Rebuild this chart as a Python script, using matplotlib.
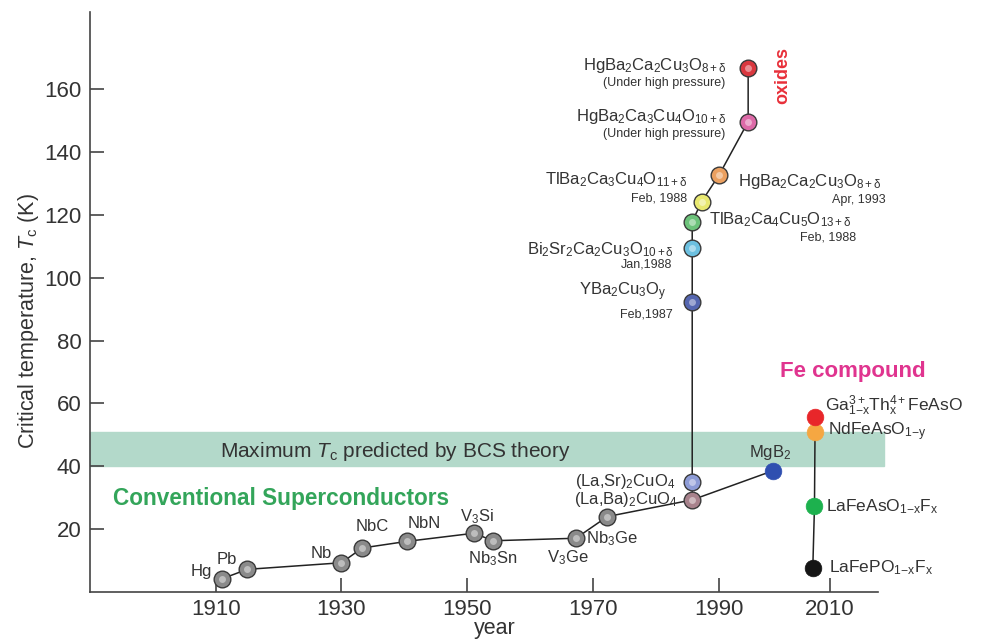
import numpy as np
import matplotlib
matplotlib.use("Agg")
import matplotlib.pyplot as plt
from matplotlib.colors import to_rgb

plt.rcParams["font.family"] = ["Liberation Sans", "DejaVu Sans"]
plt.rcParams["mathtext.fontset"] = "custom"
plt.rcParams["mathtext.rm"] = "Liberation Sans"
plt.rcParams["mathtext.it"] = "Liberation Sans:italic"
plt.rcParams["mathtext.bf"] = "Liberation Sans:bold"

# Conventional superconductors
conv_names = ["Hg", "Pb", "Nb", "NbC", "NbN", r"$\mathregular{V_3Si}$",
              r"$\mathregular{Nb_3Sn}$", r"$\mathregular{V_3Ge}$", r"$\mathregular{Nb_3Ge}$"]
conv_year = [1911, 1915, 1930, 1933.3, 1940.4, 1951.1, 1954.1, 1967.3, 1972.3]
conv_tc = [4.2, 7.2, 9.3, 14.0, 16.1, 18.7, 16.3, 17.1, 24.0]

# Cuprates (oxides), ordered along the line
oxide_names = [r"$\mathregular{(La{,}Ba)_2CuO_4}$", r"$\mathregular{(La{,}Sr)_2CuO_4}$",
               r"$\mathregular{YBa_2Cu_3O_y}$", r"$\mathregular{Bi_2Sr_2Ca_2Cu_3O_{10+\delta}}$",
               r"$\mathregular{TlBa_2Ca_4Cu_5O_{13+\delta}}$", r"$\mathregular{TlBa_2Ca_3Cu_4O_{11+\delta}}$",
               r"$\mathregular{HgBa_2Ca_2Cu_3O_{8+\delta}}$", r"$\mathregular{HgBa_2Ca_3Cu_4O_{10+\delta}}$",
               r"$\mathregular{HgBa_2Ca_2Cu_3O_{8+\delta}}$"]
oxide_notes = ["", "", "Feb,1987", "Jan,1988", "Feb, 1988", "Feb, 1988", "Apr, 1993",
               "(Under high pressure)", "(Under high pressure)"]
oxide_year = [1985.8, 1985.8, 1985.8, 1985.8, 1985.8, 1987.3, 1990.1, 1995.3, 1995.3]
oxide_tc = [29.3, 35.1, 92.4, 109.5, 117.8, 124.2, 132.7, 149.6, 166.6]

# MgB2
mgb2_year, mgb2_tc = 1999.8, 38.6

# Iron based
fe_names = [r"$\mathregular{LaFePO_{1{-}x}F_x}$", r"$\mathregular{LaFeAsO_{1{-}x}F_x}$",
            r"$\mathregular{NdFeAsO_{1{-}y}}$", r"$\mathregular{Ga^{3+}_{1{-}x}Th^{4+}_xFeAsO}$"]
fe_year = [2006.9, 2007.2, 2007.3, 2007.3]
fe_tc = [7.6, 27.2, 51.0, 55.6]

# styles / label offsets (pixels: dx, dy, ha)
conv_off = [(-10, 7, "right"), (-20, 10, "center"), (-10, 9, "right"), (10, 21, "center"),
            (17, 18, "center"), (3, 17, "center"), (0, -18, "center"), (-8, -19, "center"),
            (-21, -22, "left")]
oxide_colors = ["#a8828c", "#8d9bd6", "#5566b0", "#6cc0e0", "#6cc27a", "#e8e870",
                "#eba060", "#dd6aa8", "#d9383f"]
oxide_off = [(-14, 0, "right"), (-17, 0, "right"), (-25, 10, "right"), (-18, -2, "right"),
             (17, 2, "left"), (-14, 22, "right"), (19, -7, "left"), (-22, 5, "right"),
             (-22, 3, "right")]
note_off = [None, None, (-19, -13, "right"), (-20, -17, "right"), (164, -16, "right"),
            (-15, 3, "right"), (166, -25, "right"), (-23, -12, "right"), (-23, -15, "right")]
fe_colors = ["#151515", "#1db14e", "#f5a742", "#e8262a"]
fe_off = [(16, 0), (12, 0), (13, 0), (10, 11)]

PX = 0.72  # points per pixel at dpi 100
TXT = "#333333"


def fwd(x):
    x = np.asarray(x, float)
    return np.where(x > 1990, 1990 + (x - 1990) * 0.8865, x)


def inv(x):
    x = np.asarray(x, float)
    return np.where(x > 1990, 1990 + (x - 1990) / 0.8865, x)


def lighter(c, f=0.55):
    r = np.array(to_rgb(c))
    return tuple(r + (1 - r) * f)


def ball(ax, x, y, c, edge=True):
    if edge:
        ax.plot(x, y, "o", ms=12, mfc=c, mec="#3a3a3a", mew=1.0, zorder=4)
        ax.plot(x, y, "o", ms=5, mfc=lighter(c), mec="none", alpha=0.8, zorder=5)
    else:
        ax.plot(x, y, "o", ms=12, mfc=c, mec=c, mew=0.5, zorder=4)


def label(ax, x, y, s, dx, dy, ha, size=12, **kw):
    ax.annotate(s, (x, y), xytext=(dx * PX, dy * PX), textcoords="offset points",
                ha=ha, va="center", fontsize=size, color=TXT, **kw)


fig = plt.figure(figsize=(9.86, 6.42), dpi=100)
ax = fig.add_axes([90 / 986, 1 - 592 / 642, 788 / 986, 580 / 642])
ax.set_xscale("function", functions=(fwd, inv))
ax.set_xlim(1890, 2018.6)
ax.set_ylim(0, 184.5)

# BCS limit band
ax.axhspan(40, 51, xmin=0, xmax=794 / 788, color="#b3d9ca", zorder=0, clip_on=False)
ax.text(0.388, 0.243, r"Maximum $T_\mathrm{c}$ predicted by BCS theory", transform=ax.transAxes,
        ha="center", va="center", fontsize=15, color=TXT)

# lines
lc = dict(color="#222222", lw=1.1, zorder=2)
ax.plot(conv_year + [oxide_year[0], mgb2_year], conv_tc + [oxide_tc[0], mgb2_tc], **lc)
ax.plot(oxide_year, oxide_tc, **lc)
ax.plot(fe_year, fe_tc, **lc)

for i in range(len(conv_year)):
    ball(ax, conv_year[i], conv_tc[i], "#8a8a8a")
    dx, dy, ha = conv_off[i]
    label(ax, conv_year[i], conv_tc[i], conv_names[i], dx, dy, ha, size=12)

for i in range(len(oxide_year)):
    ball(ax, oxide_year[i], oxide_tc[i], oxide_colors[i])
    dx, dy, ha = oxide_off[i]
    label(ax, oxide_year[i], oxide_tc[i], oxide_names[i], dx, dy, ha, size=12)
    if note_off[i]:
        dx, dy, ha = note_off[i]
        label(ax, oxide_year[i], oxide_tc[i], oxide_notes[i], dx, dy, ha, size=9)

ball(ax, mgb2_year, mgb2_tc, "#2f4fb0", edge=False)
label(ax, mgb2_year, mgb2_tc, r"$\mathregular{MgB_2}$", -3, 18, "center", size=12)

for i in range(len(fe_year)):
    ball(ax, fe_year[i], fe_tc[i], fe_colors[i], edge=False)
    dx, dy = fe_off[i]
    label(ax, fe_year[i], fe_tc[i], fe_names[i], dx, dy, "left", size=12.5)

# group titles
ax.text(0.029, 0.162, "Conventional Superconductors", transform=ax.transAxes, ha="left",
        va="center", fontsize=16.3, fontweight="bold", color="#33a55a")
ax.text(0.968, 0.380, "Fe compound", transform=ax.transAxes, ha="center", va="center",
        fontsize=16, fontweight="bold", color="#e0348f")
ax.text(0.879, 0.891, "oxides", transform=ax.transAxes, ha="center", va="center",
        rotation=90, fontsize=13, fontweight="bold", color="#e8303a")

# axes
for s in ["top", "right"]:
    ax.spines[s].set_visible(False)
for s in ["left", "bottom"]:
    ax.spines[s].set_color("#444444")
    ax.spines[s].set_linewidth(1.2)
ax.set_xticks([1910, 1930, 1950, 1970, 1990, 2010])
ax.set_yticks([20, 40, 60, 80, 100, 120, 140, 160])
ax.minorticks_off()
ax.tick_params(direction="in", length=10, width=1.2, color="#444444", labelsize=16,
               labelcolor=TXT)
ax.tick_params(axis="y", pad=6)
ax.tick_params(axis="x", pad=5)
ax.set_xlabel("year", fontsize=15.5, color=TXT)
ax.xaxis.set_label_coords(0.514, -0.045)
ax.set_ylabel(r"Critical temperature, $T_\mathrm{c}$ (K)", fontsize=15.5, color=TXT)
ax.yaxis.set_label_coords(-0.062, 0.468)

fig.savefig("out.png", dpi=100)
